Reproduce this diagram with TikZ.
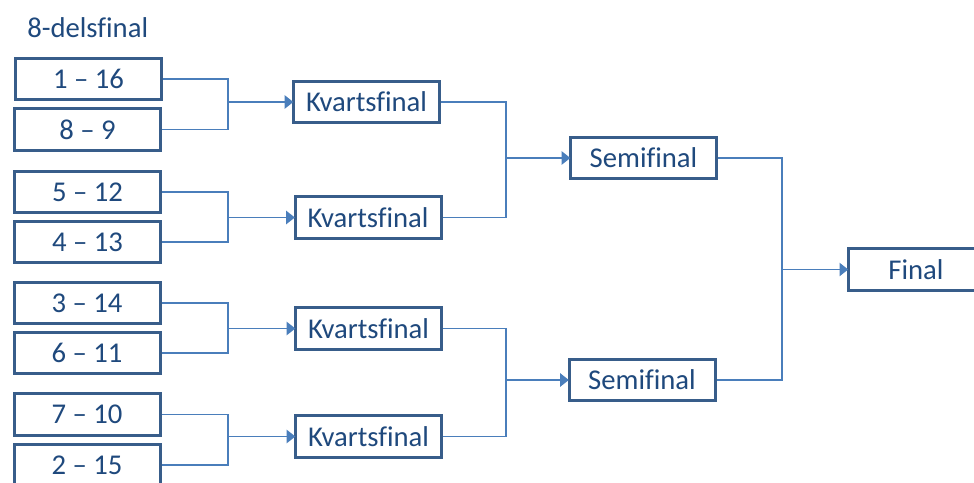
\documentclass[tikz,border=0pt]{standalone}
\usepackage{fontspec}
\setmainfont[Ligatures=NoCommon]{Carlito}
\usetikzlibrary{arrows.meta}
\definecolor{boxline}{HTML}{385D8A}
\definecolor{conn}{HTML}{4A7EBB}
\definecolor{txt}{HTML}{1F497D}
\begin{document}
\begin{tikzpicture}[x=0.75pt,y=-0.75pt,
  mbox/.style={draw=boxline,line width=2.25pt,fill=white,minimum width=109.5pt,minimum height=31pt,inner sep=0pt,text=txt,font=\fontsize{21.5}{25}\selectfont},
  conline/.style={draw=conn,line width=1pt},
  conarrow/.style={draw=conn,line width=1pt,-{Triangle[length=6.5pt,width=10pt]},shorten >=-1pt}]
\useasboundingbox (0,0) rectangle (974,482);
\node[text=txt,font=\fontsize{21.5}{25}\selectfont,anchor=base west,inner sep=0pt] (title) at (27,37) {8-delsfinal};
\node[mbox] (b1) at (88.5,79) {1 – 16};
\node[mbox] (b2) at (87.5,129.5) {8 – 9};
\node[mbox] (b3) at (87.5,192) {5 – 12};
\node[mbox] (b4) at (87.5,242) {4 – 13};
\node[mbox] (b5) at (87,303) {3 – 14};
\node[mbox] (b6) at (87,353) {6 – 11};
\node[mbox] (b7) at (87,414.5) {7 – 10};
\node[mbox] (b8) at (87,465) {2 – 15};
\node[mbox] (k1) at (366.5,102) {Kvartsfinal};
\node[mbox] (k2) at (368,217.5) {Kvartsfinal};
\node[mbox] (k3) at (368.5,328.5) {Kvartsfinal};
\node[mbox] (k4) at (368.5,436.5) {Kvartsfinal};
\node[mbox] (s1) at (643.5,158) {Semifinal};
\node[mbox] (s2) at (642,380) {Semifinal};
\node[mbox,minimum width=101.5pt] (f) at (916,269.5) {Final};
\coordinate (j1) at (228,0);
\coordinate (j2) at (506,0);
\coordinate (j3) at (782,0);
% first round
\draw[conline] (b1.east) -| (j1 |- b2.east) -- (b2.east);
\draw[conarrow] (j1 |- k1.west) -- (k1.west);
\draw[conline] (b3.east) -| (j1 |- b4.east) -- (b4.east);
\draw[conarrow] (j1 |- k2.west) -- (k2.west);
\draw[conline] (b5.east) -| (j1 |- b6.east) -- (b6.east);
\draw[conarrow] (j1 |- k3.west) -- (k3.west);
\draw[conline] (b7.east) -| (j1 |- b8.east) -- (b8.east);
\draw[conarrow] (j1 |- k4.west) -- (k4.west);
% quarter finals
\draw[conline] (k1.east) -| (j2 |- k2.east) -- (k2.east);
\draw[conarrow] (j2 |- s1.west) -- (s1.west);
\draw[conline] (k3.east) -| (j2 |- k4.east) -- (k4.east);
\draw[conarrow] (j2 |- s2.west) -- (s2.west);
% semi finals
\draw[conline] (s1.east) -| (j3 |- s2.east) -- (s2.east);
\draw[conarrow] (j3 |- f.west) -- (f.west);
\end{tikzpicture}
\end{document}
